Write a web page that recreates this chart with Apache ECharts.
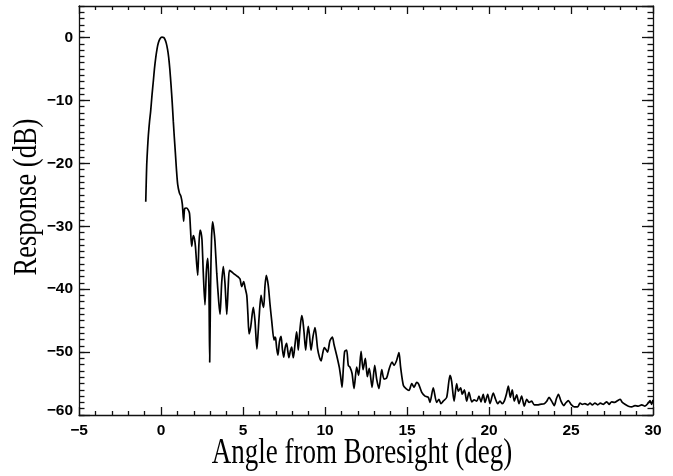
<!DOCTYPE html>
<html>
<head>
<meta charset="utf-8">
<script src="https://cdn.jsdelivr.net/npm/echarts@6/dist/echarts.min.js"></script>
<style>html,body{margin:0;padding:0;background:#fff}#c{width:673px;height:476px}</style>
</head>
<body>
<div id="c"></div>
<script>
const xTicks = [-5, 0, 5, 10, 15, 20, 25, 30];
const yTicks = [-60, -50, -40, -30, -20, -10, 0];
const angle = [
-0.93,-0.90,-0.87,-0.82,-0.77,-0.70,-0.63,-0.55,-0.47,-0.40,-0.32,-0.24,-0.16,-0.06,0.06,0.16,0.24,0.32,0.40,0.47,
0.54,0.61,0.68,0.75,0.81,0.87,0.94,1.02,1.12,1.22,1.30,1.38,1.44,1.55,1.66,1.74,1.80,1.87,1.97,2.04,
2.10,2.17,2.24,2.31,2.38,2.44,2.50,2.58,2.68,2.77,2.85,2.92,2.97,3.02,3.08,3.15,3.22,3.29,3.40,3.52,
3.60,3.70,3.80,3.90,4.01,4.10,4.17,4.28,4.41,4.52,4.62,4.72,4.82,4.92,5.04,5.13,5.23,5.30,5.37,5.47,
5.56,5.63,5.73,5.85,5.92,5.98,6.10,6.18,6.26,6.34,6.42,6.54,6.65,6.75,6.89,6.94,6.99,7.06,7.13,7.22,
7.32,7.40,7.48,7.57,7.66,7.73,7.80,7.89,7.97,8.02,8.07,8.17,8.27,8.32,8.37,8.47,8.58,8.65,8.72,8.82,
8.90,8.98,9.06,9.15,9.27,9.39,9.47,9.55,9.66,9.76,9.86,9.96,10.06,10.16,10.30,10.45,10.55,10.71,10.87,10.96,
11.04,11.12,11.20,11.32,11.42,11.52,11.65,11.77,11.93,12.05,12.20,12.32,12.46,12.58,12.70,12.87,13.03,13.15,13.29,13.46,
13.60,13.76,13.92,14.09,14.21,14.37,14.51,14.61,14.78,14.94,15.12,15.29,15.43,15.59,15.71,15.90,16.10,16.30,16.40,16.60,
16.81,16.95,17.07,17.21,17.42,17.62,17.72,17.87,18.03,18.13,18.27,18.37,18.50,18.64,18.78,18.95,19.10,19.25,19.39,19.51,
19.65,19.76,19.92,20.06,20.26,20.40,20.53,20.67,20.81,20.93,21.06,21.18,21.30,21.42,21.54,21.69,21.83,21.99,22.15,22.30,
22.44,22.60,22.76,22.97,23.11,23.37,23.52,23.66,23.82,23.98,24.10,24.23,24.39,24.56,24.68,24.84,25.00,25.20,25.41,25.55,
25.69,25.85,26.02,26.16,26.30,26.46,26.63,26.79,26.97,27.18,27.32,27.48,27.65,27.85,28.00,28.13,28.29,28.50,28.70,28.90,
29.10,29.31,29.51,29.71,29.82,29.92,30.00
];
const response = [
-26.1,-23.0,-20.2,-17.6,-15.5,-13.4,-11.7,-9.2,-7.0,-5.0,-3.2,-1.8,-0.85,-0.2,0.05,0.0,-0.3,-0.9,-1.9,-3.2,
-5.1,-7.5,-10.2,-13.3,-15.8,-18.1,-20.9,-23.4,-24.7,-25.3,-26.5,-29.2,-27.2,-27.1,-27.4,-28.0,-30.5,-33.2,-31.5,-32.0,
-33.2,-35.8,-37.8,-33.0,-30.6,-31.0,-32.2,-37.5,-42.5,-37.0,-35.1,-39.5,-51.6,-40.0,-32.0,-29.3,-30.5,-32.4,-37.5,-42.0,
-44.0,-39.0,-36.4,-39.0,-44.0,-39.5,-37.0,-37.2,-37.5,-37.7,-37.9,-38.1,-38.4,-39.6,-38.8,-39.8,-41.0,-44.0,-47.1,-46.0,
-44.0,-42.9,-45.0,-49.5,-47.0,-44.5,-41.0,-42.2,-42.9,-39.5,-37.8,-39.4,-42.5,-45.0,-48.1,-47.6,-47.8,-49.5,-50.5,-48.4,
-47.5,-49.5,-50.8,-49.3,-48.6,-49.8,-50.9,-49.8,-49.2,-50.2,-50.9,-48.8,-46.8,-48.0,-49.7,-46.5,-44.2,-45.0,-46.8,-49.7,
-47.5,-45.9,-47.5,-49.7,-47.5,-46.1,-47.5,-49.5,-50.8,-51.4,-50.2,-49.3,-49.6,-50.0,-48.2,-47.6,-48.8,-50.5,-52.4,-54.0,
-55.6,-52.5,-49.9,-49.7,-52.1,-52.4,-53.4,-55.8,-52.4,-53.7,-49.9,-52.8,-51.0,-53.9,-52.6,-55.6,-52.1,-54.3,-55.8,-52.8,
-54.3,-54.1,-52.6,-51.6,-52.1,-51.3,-50.1,-52.4,-55.3,-55.8,-56.1,-55.0,-55.6,-54.8,-55.1,-56.4,-57.0,-57.2,-58.0,-55.7,
-58.0,-57.5,-58.2,-57.8,-57.2,-53.7,-54.6,-57.8,-55.0,-56.2,-55.7,-56.7,-56.0,-57.8,-56.4,-57.9,-57.6,-57.8,-57.0,-57.9,
-56.7,-58.0,-56.7,-58.2,-56.5,-57.5,-58.2,-57.8,-58.2,-57.8,-56.7,-55.4,-57.2,-56.0,-57.8,-56.8,-58.2,-57.0,-58.6,-57.5,
-58.0,-57.8,-58.4,-58.4,-58.3,-58.2,-57.8,-57.2,-57.8,-58.5,-57.5,-56.7,-57.8,-58.5,-58.1,-57.7,-58.3,-58.7,-58.7,-58.1,
-58.3,-58.2,-58.4,-58.1,-58.4,-58.1,-58.4,-58.1,-58.3,-57.9,-58.3,-57.9,-58.0,-57.7,-57.5,-58.0,-58.3,-58.6,-58.7,-58.5,
-58.6,-58.4,-58.6,-58.1,-57.7,-58.3,-57.6
];
const xTitle = 'Angle from Boresight (deg)';
const yTitle = 'Response (dB)';

const fmt = v => (v < 0 ? '\u2212' + Math.abs(v) : String(v));
const lineStyle = { color: '#111', width: 1.3 };
const labelFont = { fontFamily: 'Liberation Sans', fontWeight: 'bold', fontSize: 15.5, color: '#000' };

const chart = echarts.init(document.getElementById('c'), null, { renderer: 'canvas' });
chart.setOption({
  animation: false,
  backgroundColor: '#fff',
  grid: { left: 79, right: 20, top: 6, bottom: 61, containLabel: false },
  xAxis: [
    { type: 'value', position: 'bottom', min: xTicks[0], max: xTicks[xTicks.length - 1], interval: 5,
      axisLine: { show: true, onZero: false, lineStyle },
      axisTick: { show: true, inside: true, length: 8, lineStyle },
      minorTick: { show: true, splitNumber: 5, length: 4, lineStyle },
      splitLine: { show: false },
      axisLabel: Object.assign({ margin: 8, formatter: v => xTicks.includes(v) ? fmt(v) : '' }, labelFont) },
    { type: 'value', position: 'top', min: xTicks[0], max: xTicks[xTicks.length - 1], interval: 5,
      axisLine: { show: true, onZero: false, lineStyle },
      axisTick: { show: true, inside: true, length: 8, lineStyle },
      minorTick: { show: true, splitNumber: 5, length: 4, lineStyle },
      splitLine: { show: false }, axisLabel: { show: false } }
  ],
  yAxis: [
    { type: 'value', position: 'left', min: -60, max: 5, interval: 10,
      axisLine: { show: true, onZero: false, lineStyle },
      axisTick: { show: true, inside: true, length: 11, lineStyle },
      splitLine: { show: false },
      axisLabel: Object.assign({ margin: 6, showMaxLabel: false,
        formatter: v => yTicks.includes(v) ? (v === -60 ? '{up|' + fmt(v) + '}' : fmt(v)) : '',
        rich: { up: Object.assign({ padding: [0, 0, 8, 0] }, labelFont) } }, labelFont) },
    { type: 'value', position: 'right', min: -60, max: 5, interval: 10,
      axisLine: { show: true, onZero: false, lineStyle },
      axisTick: { show: true, inside: true, length: 11, lineStyle },
      splitLine: { show: false }, axisLabel: { show: false } },
    { type: 'value', position: 'left', min: -60, max: 5, interval: 1,
      axisLine: { show: false, onZero: false }, axisTick: { show: true, inside: true, length: 5.5, lineStyle },
      splitLine: { show: false }, axisLabel: { show: false } },
    { type: 'value', position: 'right', min: -60, max: 5, interval: 1,
      axisLine: { show: false, onZero: false }, axisTick: { show: true, inside: true, length: 5.5, lineStyle },
      splitLine: { show: false }, axisLabel: { show: false } }
  ],
  graphic: [
    { type: 'text', x: 362, y: 454, scaleY: 1.3,
      style: { text: xTitle, font: '27px "Liberation Serif"', fill: '#000', textAlign: 'center', textVerticalAlign: 'middle' } },
    { type: 'text', x: 27, y: 197, rotation: Math.PI / 2, scaleY: 1.3,
      style: { text: yTitle, font: '26.5px "Liberation Serif"', fill: '#000', textAlign: 'center', textVerticalAlign: 'middle' } }
  ],
  series: [{
    type: 'line', xAxisIndex: 0, yAxisIndex: 0, showSymbol: false, smooth: 0.25,
    lineStyle: { color: '#000', width: 1.7 },
    data: angle.map((a, i) => [a, response[i]])
  }]
});
</script>
</body>
</html>
